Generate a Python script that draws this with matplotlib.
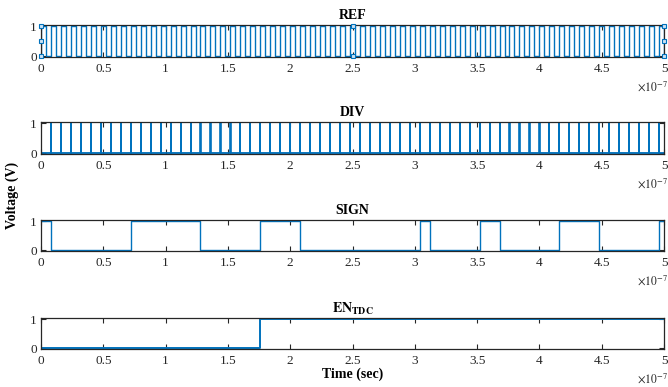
import numpy as np
import matplotlib
matplotlib.use("Agg")
import matplotlib.pyplot as plt
from matplotlib.ticker import FuncFormatter, FixedLocator

plt.rcParams['font.family'] = ['Liberation Serif', 'DejaVu Serif']
plt.rcParams['mathtext.fontset'] = 'stix'

# ---------------- data (times in ns) ----------------
ref_rise_ns = [0, 8, 16, 24, 32, 40, 48, 56, 64, 72, 80, 88, 96, 104, 112, 120,
               128, 136, 144, 152, 160, 168, 176, 184, 192, 200, 208, 216, 224,
               232, 240, 248, 256, 264, 272, 280, 288, 296, 304, 312, 320, 328,
               336, 344, 352, 360, 368, 376, 384, 392, 400, 408, 416, 424, 432,
               440, 448, 456, 464, 472, 480, 488, 496]
ref_high_ns = 4.0
div_pulse_ns = [0, 8, 16, 24, 32, 40, 48, 56, 64, 72, 80, 88, 96, 104, 112, 120,
                128, 136, 144, 152, 160, 168, 176, 184, 192, 200, 208, 216, 224,
                232, 240, 248, 256, 264, 272, 280, 288, 296, 304, 312, 320, 328,
                336, 344, 352, 360, 368, 376, 384, 392, 400, 408, 416, 424, 432,
                440, 448, 456, 464, 472, 480, 488, 496]
div_width_ns = 0.1
sign_t_ns = [0, 8, 72, 128, 176, 208, 304, 312, 352, 368, 416, 448, 496, 500]
sign_v = [1, 0, 1, 0, 1, 0, 1, 0, 1, 0, 1, 0, 1, 1]
en_t_ns = [0, 176, 500]
en_v = [0, 1, 1]
t_end_ns = 500
titles = ['REF', 'DIV', 'SIGN', r'$\mathbf{EN_{TDC}}$']
xtick_vals = [0, 0.5, 1, 1.5, 2, 2.5, 3, 3.5, 4, 4.5, 5]   # x 1e-7 s
ytick_vals = [0, 1]
handle_pts = [(0, 0), (0, 0.5), (0, 1), (2.5, 0), (2.5, 1), (5, 0), (5, 0.5), (5, 1)]


def pulses(starts, width, t_end):
    t, v = [], []
    for s in starts:
        e = min(s + width, t_end)
        t += [s, s, e, e]
        v += [0, 1, 1, 0]
    if t[-1] < t_end:
        t.append(t_end)
        v.append(0)
    return np.array(t) * 1e-9, np.array(v)


ref_t, ref_v = pulses(ref_rise_ns, ref_high_ns, t_end_ns)
div_t, div_v = pulses(div_pulse_ns, div_width_ns, t_end_ns)
sign_t = np.array(sign_t_ns) * 1e-9
en_t = np.array(en_t_ns) * 1e-9

W, H = 668, 387
fig = plt.figure(figsize=(W / 100, H / 100), dpi=100)
left, right = 41 / W, 664 / W
rows = [(25, 57), (122, 154), (220, 251), (318, 349)]
axes = []
for (top, bot) in rows:
    ax = fig.add_axes([left, 1 - bot / H, right - left, (bot - top) / H])
    axes.append(ax)

blue = '#0072BD'
edge = '#262626'
axes[0].plot(ref_t, ref_v, color=blue, lw=1.0)
axes[1].plot(div_t, div_v, color=blue, lw=1.2)
axes[1].plot([0, 5e-7], [0, 0], color='#5aa0d6', lw=2.0, zorder=1)
axes[2].step(sign_t, sign_v, where='post', color=blue, lw=1.0)
axes[3].step(en_t, en_v, where='post', color=blue, lw=1.4)

hx = [p[0] * 1e-7 for p in handle_pts]
hy = [p[1] for p in handle_pts]
axes[0].plot(hx, hy, ls='none', marker='s', ms=3, mfc='#cfe3f3', mec=blue,
             mew=0.8, clip_on=False, zorder=5)

for i, (ax, title) in enumerate(zip(axes, titles)):
    ax.set_xlim(0, 5e-7)
    ax.set_ylim(-0.03, 1.04)
    ax.xaxis.set_major_locator(FixedLocator([v * 1e-7 for v in xtick_vals]))
    ax.xaxis.set_major_formatter(FuncFormatter(lambda x, p: '%g' % round(x / 1e-7, 3)))
    ax.yaxis.set_major_locator(FixedLocator(ytick_vals))
    ax.yaxis.set_major_formatter(FuncFormatter(lambda y, p: '%g' % y))
    ax.tick_params(direction='in', length=3.5, width=0.8, colors=edge,
                   labelsize=9.5, top=True, right=True, pad=3)
    ax.tick_params(axis='x', pad=4)
    for s in ax.spines.values():
        s.set_color(edge)
        s.set_linewidth(0.9)
    ax.set_title(title, fontsize=10, fontweight='bold', pad=4, color='black')
    ax.annotate(r'$\times10^{-7}$', xy=(1, 0), xycoords='axes fraction',
                xytext=(3, -16.5), textcoords='offset points', ha='right',
                va='top', fontsize=8.5, color=edge)

axes[3].set_xlabel('Time (sec)', fontsize=10, fontweight='bold', labelpad=1)
fig.text(12 / W, 1 - 195 / H, 'Voltage (V)', rotation=90, ha='center',
         va='center', fontsize=10, fontweight='bold')

fig.savefig('out.png', dpi=100)
